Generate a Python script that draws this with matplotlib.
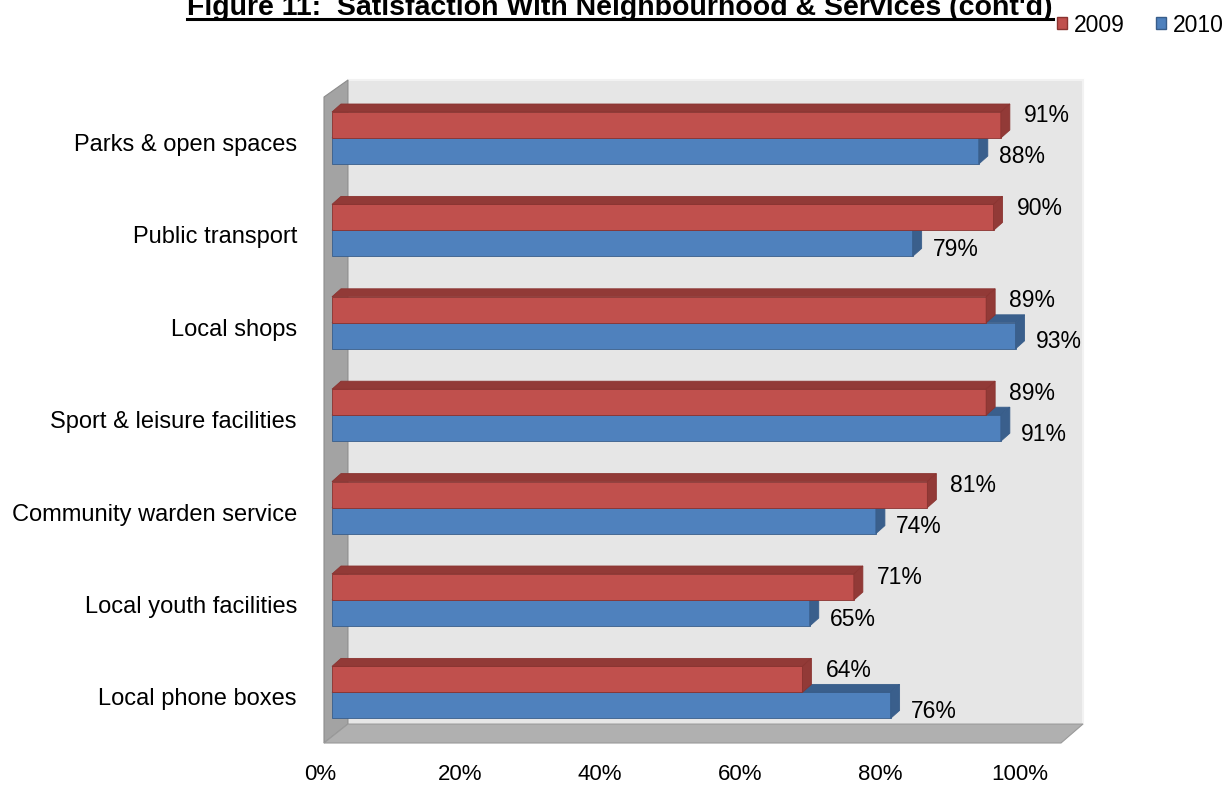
import matplotlib
matplotlib.use("Agg")
import matplotlib.pyplot as plt
from matplotlib.patches import Polygon, Patch
from matplotlib.lines import Line2D

plt.rcParams['font.family'] = ['Liberation Sans', 'DejaVu Sans']

# Satisfaction scores (%)
categories = ["Parks & open spaces", "Public transport", "Local shops",
              "Sport & leisure facilities", "Community warden service",
              "Local youth facilities", "Local phone boxes"]
v2009 = [91, 90, 89, 89, 81, 71, 64]
v2010 = [88, 79, 93, 91, 74, 65, 76]
xticks = [0, 20, 40, 60, 80, 100]

RED, RED_DARK, RED_EDGE = "#C0504D", "#923A37", "#8A3330"
BLUE, BLUE_DARK, BLUE_EDGE = "#4F81BD", "#3A5F8C", "#385D8A"

W, H = 1227, 787
fig = plt.figure(figsize=(W / 100, H / 100), dpi=100)


def rect(l, t, r, b):
    return [l / W, 1 - b / H, (r - l) / W, (b - t) / H]


# pixel geometry of the plot box
X0, PX_X = 332, 7.35     # x pixel of 0%, pixels per percent
Y0, PX_Y = 138, 92.4     # y pixel of first category, pixels per category

ax = fig.add_axes(rect(318, 70, 1095, 752))
ax.set_xlim((318 - X0) / PX_X, (1095 - X0) / PX_X)
ax.set_ylim((752 - Y0) / PX_Y, (70 - Y0) / PX_Y)
ax.axis("off")


def pt(px, py):
    return ((px - X0) / PX_X, (py - Y0) / PX_Y)


# walls and floor
ax.add_patch(Polygon([pt(348, 80), pt(1083, 80), pt(1083, 724), pt(348, 724)],
                     closed=True, fc="#E6E6E6", ec="#F2F2F2", lw=1.5, zorder=0))
ax.add_patch(Polygon([pt(324, 97), pt(348, 80), pt(348, 724), pt(324, 743)],
                     closed=True, fc="#A3A3A3", ec="#8C8C8C", lw=0.8, zorder=0.5))
ax.add_patch(Polygon([pt(324, 743), pt(348, 724), pt(1083, 724), pt(1061, 743)],
                     closed=True, fc="#B0B0B0", ec="#9A9A9A", lw=0.8, zorder=0.5))

h = 26 / PX_Y            # bar thickness
dx = 9 / PX_X            # depth offset
dy = -8 / PX_Y


def bar3d(v, ytop, front, dark, edge, z):
    ybot = ytop + h
    ax.barh(ytop, v, height=h, left=0, align="edge", color=front,
            edgecolor=edge, linewidth=0.6, zorder=z)
    ax.add_patch(Polygon([(0, ytop), (v, ytop), (v + dx, ytop + dy), (dx, ytop + dy)],
                         closed=True, fc=dark, ec=edge, lw=0.6, zorder=z))
    ax.add_patch(Polygon([(v, ytop), (v + dx, ytop + dy), (v + dx, ybot + dy), (v, ybot)],
                         closed=True, fc=dark, ec=edge, lw=0.6, zorder=z))


for i, (a, b) in enumerate(zip(v2009, v2010)):
    bar3d(b, i, BLUE, BLUE_DARK, BLUE_EDGE, 2 + i * 0.01)
    bar3d(a, i - h, RED, RED_DARK, RED_EDGE, 3 + i * 0.01)
    ax.annotate(f"{a}%", xy=(a + dx, i - h / 2), xytext=(14, 9),
                textcoords="offset pixels", va="center", ha="left", fontsize=16.5)
    ax.annotate(f"{b}%", xy=(b + dx, i + h / 2), xytext=(11, -6),
                textcoords="offset pixels", va="center", ha="left", fontsize=16.5)

# category labels
for i, c in enumerate(categories):
    ax.text(-(X0 - 297) / PX_X, i + 7 / PX_Y, c, ha="right", va="center",
            fontsize=17)

# percent scale below the floor
tax = fig.add_axes(rect(320, 758, 1020, 758.5))
tax.set_xlim(0, 100)
tax.set_xticks(xticks)
tax.set_xticklabels([f"{t}%" for t in xticks], fontsize=16)
tax.tick_params(length=0, pad=4)
tax.set_yticks([])
for s in tax.spines.values():
    s.set_visible(False)
tax.patch.set_alpha(0)

# title with underline
title = fig.text(620 / W, 1 - 15 / H,
                 "Figure 11:  Satisfaction With Neighbourhood & Services (cont'd)",
                 ha="center", va="baseline", fontsize=20.5, fontweight="bold")
fig.canvas.draw()
bb = title.get_window_extent()
fig.add_artist(Line2D([bb.x0 / W, bb.x1 / W], [1 - 18.5 / H, 1 - 18.5 / H],
                      color="black", lw=2.2, transform=fig.transFigure))

handles = [Patch(fc=RED, ec=RED_EDGE, label="2009"),
           Patch(fc=BLUE, ec=BLUE_EDGE, label="2010")]
fig.legend(handles=handles, loc="center right", bbox_to_anchor=(1224 / W, 1 - 25 / H),
           ncol=2, frameon=False, fontsize=16.5, handlelength=0.45, handleheight=0.45,
           handletextpad=0.3, columnspacing=1.35, borderpad=0, borderaxespad=0)

fig.savefig("out.png", dpi=100)
